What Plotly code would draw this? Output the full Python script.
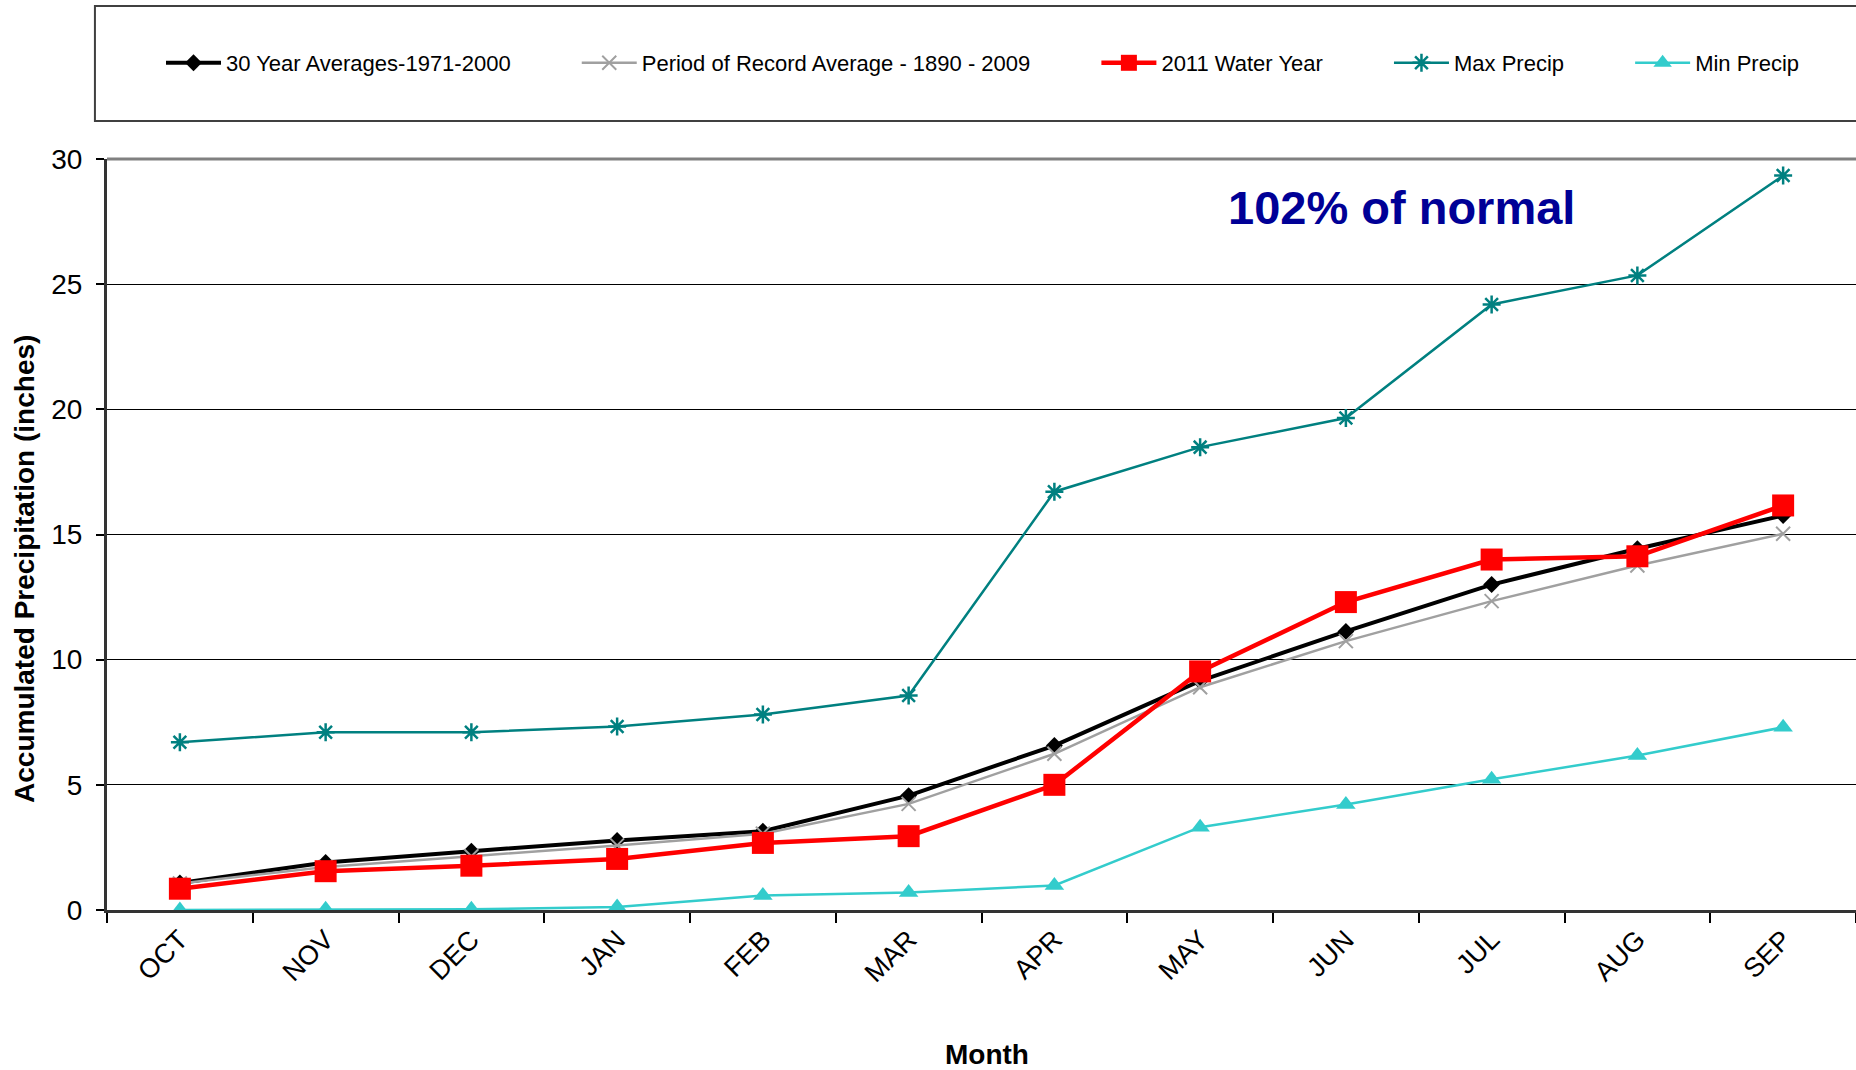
import plotly.graph_objects as go

# Monthly accumulated precipitation over the water year (inches)
months = ["OCT", "NOV", "DEC", "JAN", "FEB", "MAR", "APR", "MAY", "JUN", "JUL", "AUG", "SEP"]
avg_1971_2000 = [1.08, 1.90, 2.35, 2.78, 3.15, 4.57, 6.57, 9.15, 11.13, 13.00, 14.43, 15.76]
avg_1890_2009 = [1.06, 1.72, 2.15, 2.58, 3.05, 4.24, 6.24, 8.90, 10.74, 12.34, 13.76, 15.03]
water_year_2011 = [0.85, 1.55, 1.77, 2.04, 2.68, 2.95, 5.00, 9.53, 12.30, 14.00, 14.13, 16.16]
max_precip = [6.70, 7.10, 7.10, 7.33, 7.81, 8.57, 16.71, 18.49, 19.65, 24.19, 25.35, 29.34]
min_precip = [0.00, 0.03, 0.03, 0.12, 0.58, 0.70, 0.98, 3.31, 4.21, 5.22, 6.17, 7.30]

FONT = "Liberation Sans, Arial, sans-serif"
PAD = "\u00a0" * 10  # spacing between horizontal legend entries

fig = go.Figure()

fig.add_trace(go.Scatter(
    x=months, y=avg_1971_2000, name="30 Year Averages-1971-2000" + PAD,
    mode="lines+markers",
    line=dict(color="#000000", width=4),
    marker=dict(symbol="diamond", size=13, color="#000000"),
))
fig.add_trace(go.Scatter(
    x=months, y=avg_1890_2009, name="Period of Record Average - 1890 - 2009" + PAD,
    mode="lines+markers",
    line=dict(color="#A0A0A0", width=2.5),
    marker=dict(symbol="x-thin-open", size=14, color="#A0A0A0", line=dict(width=2, color="#A0A0A0")),
))
fig.add_trace(go.Scatter(
    x=months, y=water_year_2011, name="2011 Water Year" + PAD,
    mode="lines+markers",
    line=dict(color="#FF0000", width=4.5),
    marker=dict(symbol="square", size=22, color="#FF0000"),
))
fig.add_trace(go.Scatter(
    x=months, y=max_precip, name="Max Precip" + PAD,
    mode="lines+markers",
    line=dict(color="#008080", width=2.5),
    marker=dict(symbol="asterisk-open", size=15, color="#008080", line=dict(width=2.5, color="#008080")),
))
fig.add_trace(go.Scatter(
    x=months, y=min_precip, name="Min Precip",
    mode="lines+markers",
    line=dict(color="#33CCCC", width=2.5),
    marker=dict(symbol="triangle-up", size=17, color="#33CCCC"),
))

fig.update_layout(
    width=1856, height=1070,
    margin=dict(l=107, r=0, t=159, b=160),
    paper_bgcolor="white", plot_bgcolor="white",
    font=dict(family=FONT, color="#000000"),
    showlegend=True,
    legend=dict(
        orientation="h",
        xref="container", yref="container",
        x=161 / 1856, xanchor="left",
        y=1 - 63 / 1070, yanchor="middle",
        itemwidth=55,
        font=dict(family=FONT, size=22, color="#000000"),
        bgcolor="rgba(0,0,0,0)",
        borderwidth=0,
    ),
    xaxis=dict(
        type="category",
        range=[-0.5, 11.5],
        tickson="boundaries",
        ticks="outside", ticklen=10, tickwidth=1.5, tickcolor="#000000",
        tickangle=-45,
        tickfont=dict(family=FONT, size=27, color="#000000"),
        showgrid=False,
        showline=True, linecolor="#333333", linewidth=3,
        zeroline=False,
    ),
    yaxis=dict(
        range=[0, 30],
        tickvals=[0, 5, 10, 15, 20, 25, 30],
        ticks="outside", ticklen=8, tickwidth=1.5, tickcolor="#000000",
        ticklabelstandoff=8,
        tickfont=dict(family=FONT, size=28, color="#000000"),
        showgrid=True, gridcolor="#000000", gridwidth=1,
        showline=True, linecolor="#333333", linewidth=3,
        zeroline=False,
    ),
)

# Plot-area frame (top edge) and legend frame
fig.add_shape(type="line", xref="paper", yref="paper", x0=0, x1=1.01, y0=1, y1=1,
              line=dict(color="#808080", width=3), layer="above")
fig.add_shape(type="rect", xref="paper", yref="paper",
              x0=-0.0069, x1=1.02, y0=1.0506, y1=1.2037,
              line=dict(color="#404040", width=2), fillcolor="rgba(0,0,0,0)")

fig.add_annotation(text="<b>102% of normal</b>", xref="paper", yref="paper",
                   x=0.7404, y=0.9348, xanchor="center", yanchor="middle", showarrow=False,
                   font=dict(family=FONT, size=47, color="#000096"))
fig.add_annotation(text="<b>Accumulated Precipitation (inches)</b>", xref="paper", yref="paper",
                   x=-0.0475, y=0.454, xanchor="center", yanchor="middle",
                   textangle=-90, showarrow=False,
                   font=dict(family=FONT, size=28, color="#000000"))
fig.add_annotation(text="<b>Month</b>", xref="paper", yref="paper",
                   x=0.5031, y=-0.193, xanchor="center", yanchor="middle", showarrow=False,
                   font=dict(family=FONT, size=28, color="#000000"))

fig.write_html("out.html")
